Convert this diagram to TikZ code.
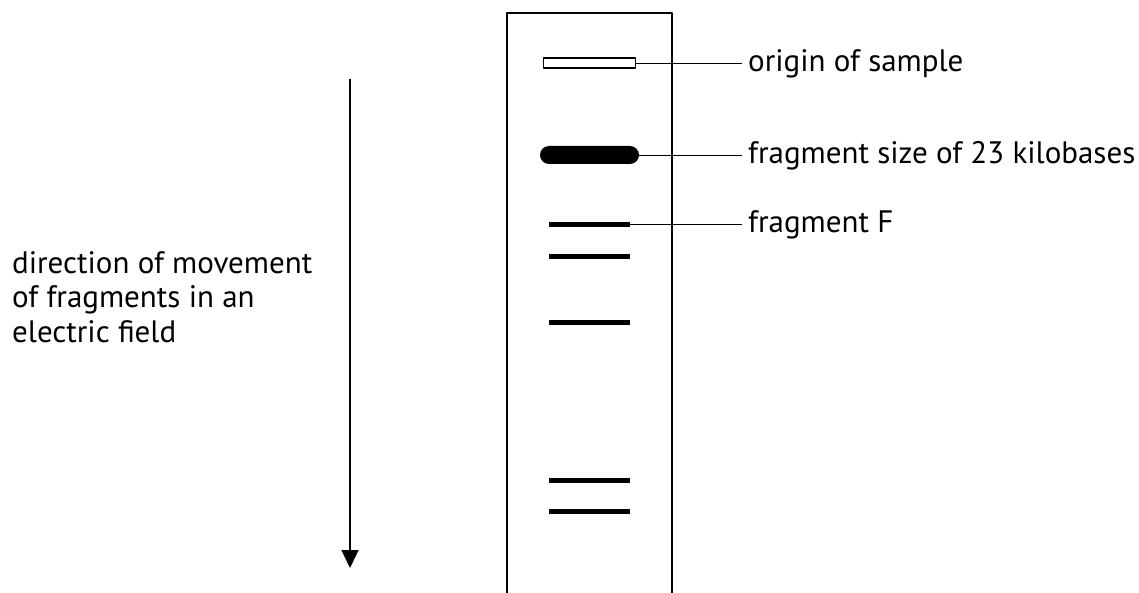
\documentclass[tikz,border=0pt]{standalone}
\usepackage{fontspec}
\setmainfont{PT Sans}
\usetikzlibrary{arrows.meta}
\begin{document}
\begin{tikzpicture}[x=1pt, y=-1pt, line join=round, >=Triangle]

		\tikzset{label style/.style={font=\fontsize{31}{34.5}\selectfont, inner sep=0pt},
			band style/.style={fill=black, inner sep=0pt, minimum width=81pt, minimum height=5pt}}

		\useasboundingbox (0,0) rectangle (1139,593);
		% gel
		\draw[line width=2pt] (507,593)--(507,13.5)--(672,13.5)--(672,593);
		\node[draw, line width=1.2pt, inner sep=0pt, minimum width=92pt, minimum height=10pt] (origin) at (589.5,63) {};
		\node[fill=black, rounded corners=9pt, inner sep=0pt, minimum width=99pt, minimum height=18pt] (big) at (589.5,155) {};
		\node[band style] (fragF) at (589.5,224.5) {};
		\foreach \y/\n in {256.5/b2,322.5/b3,480.5/b4,511.5/b5}
		\node[band style] (\n) at (589.5,\y) {};
		% labels
		\node[label style, anchor=base west] (lorigin) at (748,71.5) {origin of sample};
		\node[label style, anchor=base west] (lbig) at (748,163.5) {fragment size of 23 kilobases};
		\node[label style, anchor=base west] (lfragF) at (748,233) {fragment F};
		\draw[thin] (origin.east)--([xshift=-6pt]origin.east -| lorigin.west);
		\draw[thin] (big.east)--([xshift=-6pt]big.east -| lbig.west);
		\draw[thin] (fragF.east)--([xshift=-6pt]fragF.east -| lfragF.west);
		% direction
		\node[label style, anchor=base west, align=left] (dir) at (12,342) {direction of movement\\of fragments in an\\electric field};
		\coordinate (atop) at (350,79);
		\coordinate (abot) at (350,568);
		\draw[line width=1.3pt, -{Triangle[length=18pt,width=17pt]}] (atop)--(abot);
	\end{tikzpicture}
\end{document}
